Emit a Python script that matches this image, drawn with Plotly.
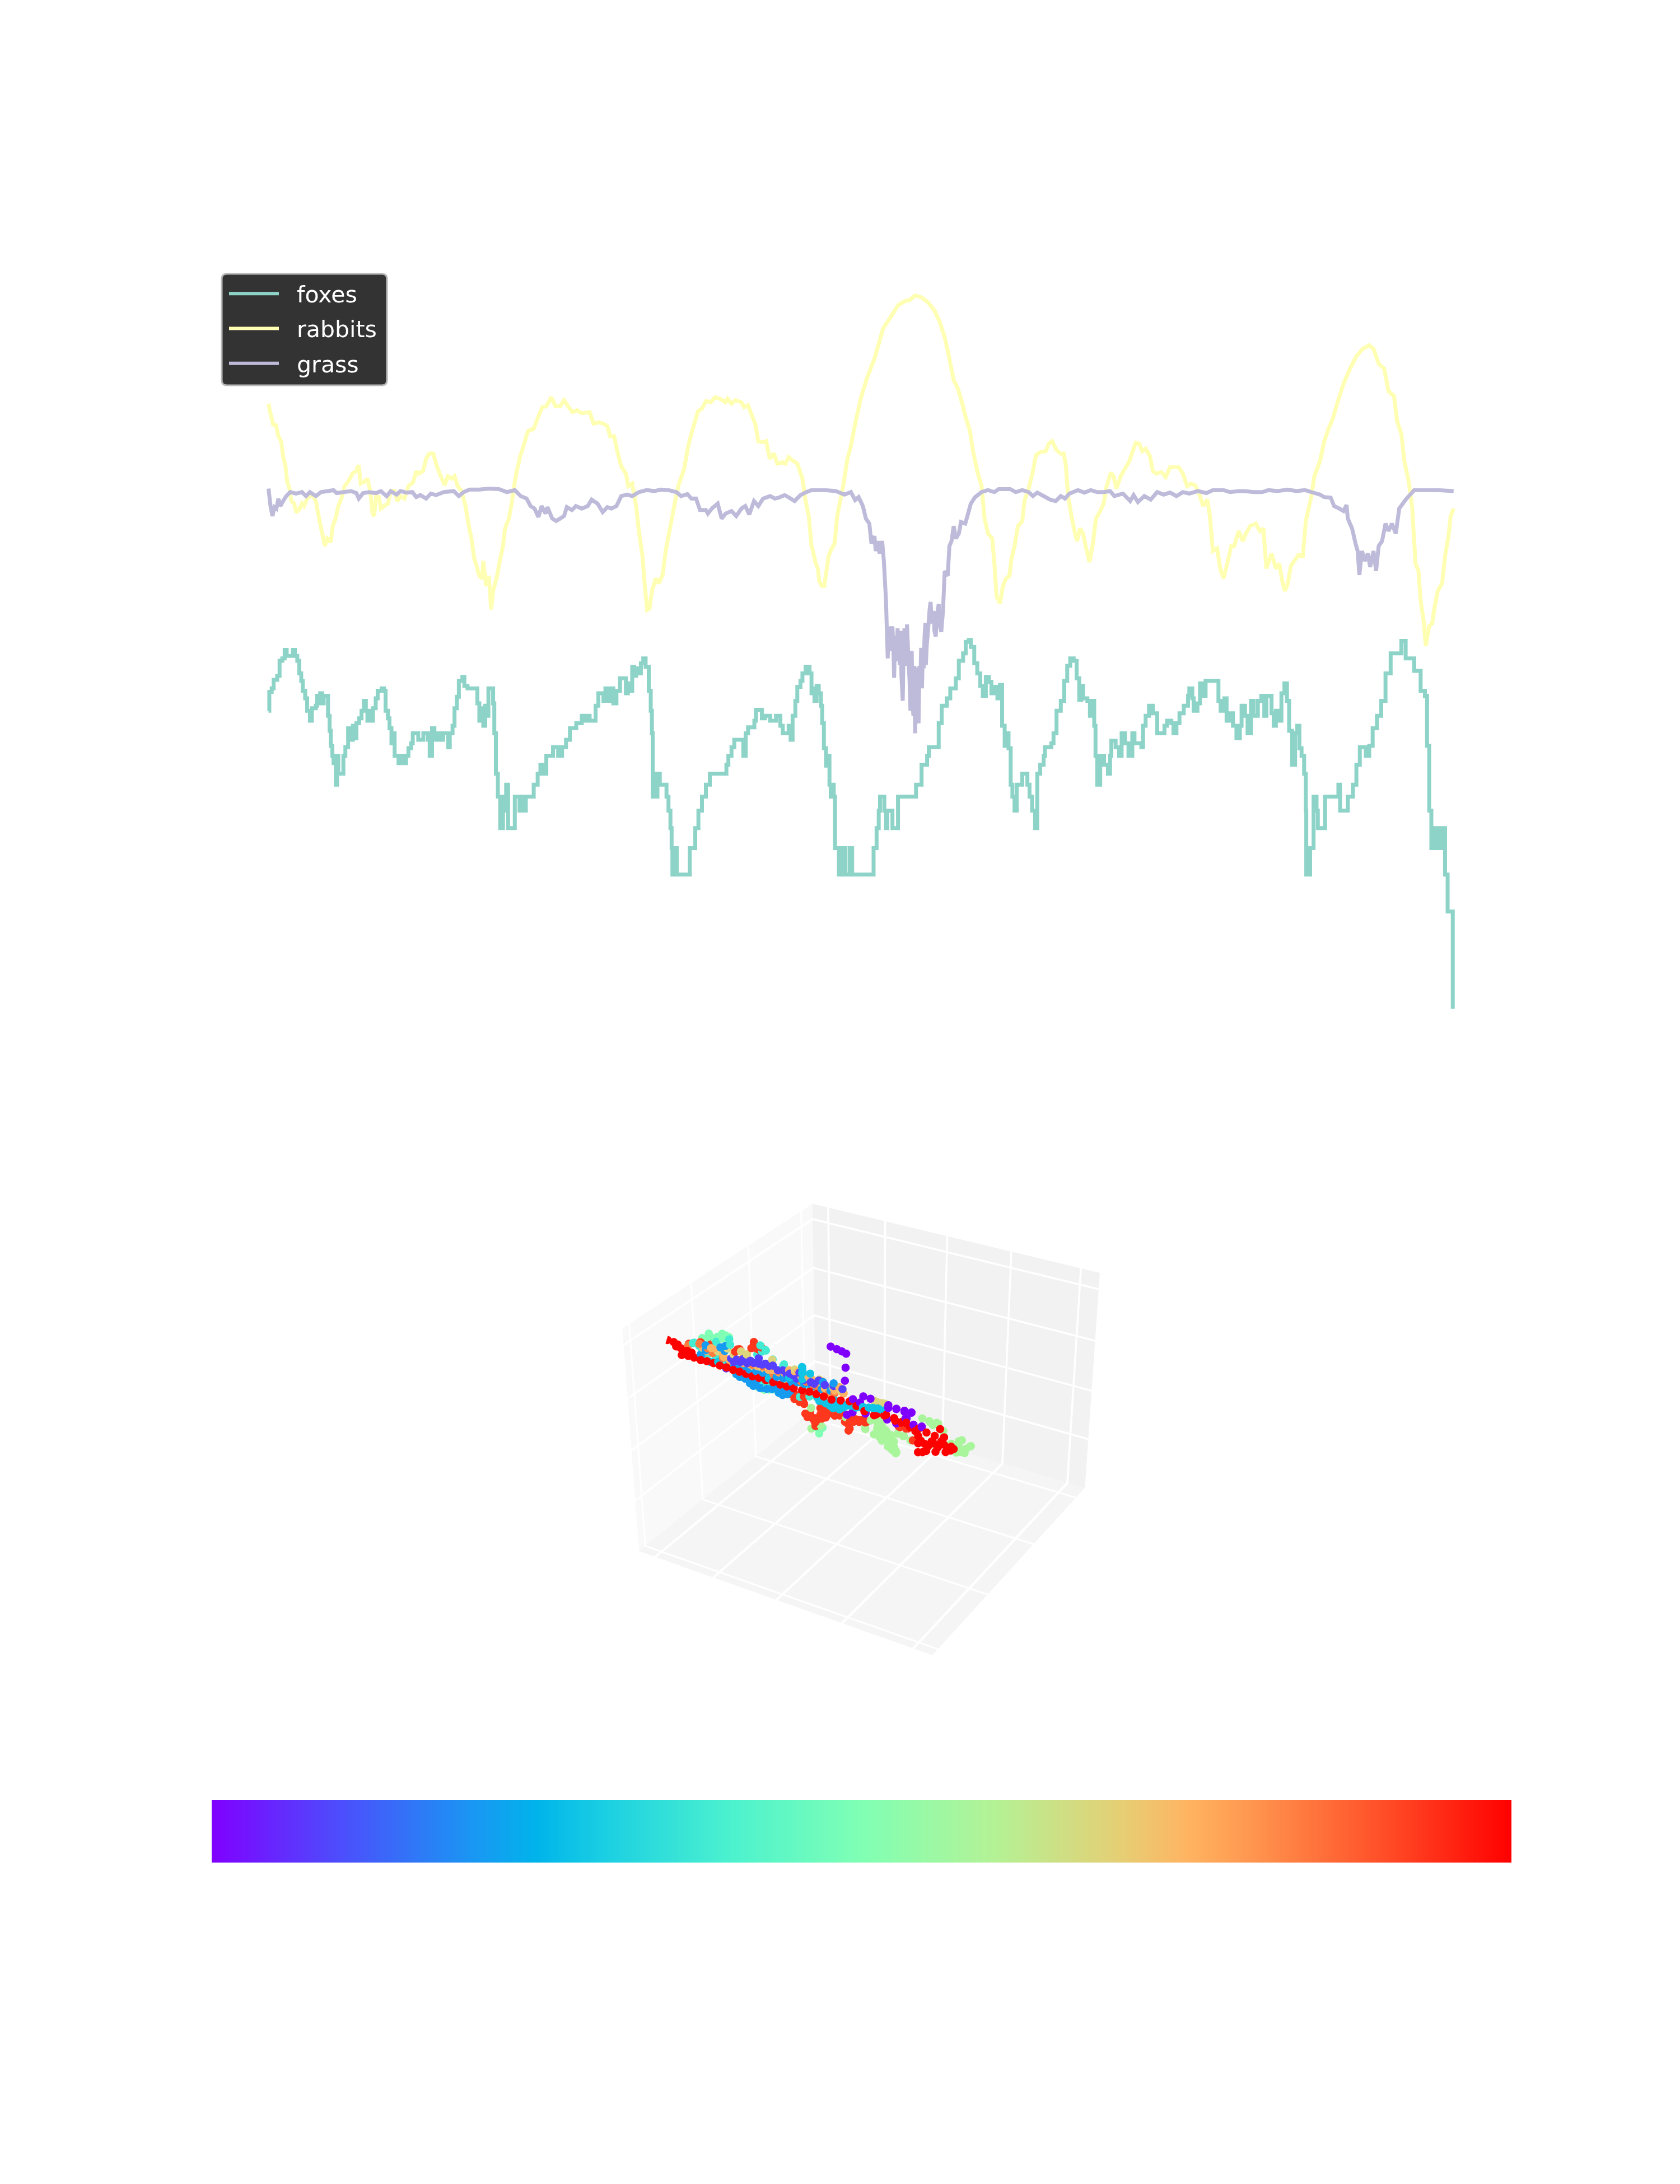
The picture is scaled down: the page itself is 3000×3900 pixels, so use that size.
import plotly.graph_objects as go

series_names = ["foxes", "rabbits", "grass"]
series_colors = ["#8dd3c7", "#ffffb3", "#bebada"]

# (time, level) pairs, first and second half of the run
rabbits_a = [(185,305),(190,325),(197,347),(204,348),(210,370),(217,380),(222,410),(228,430),(232,460),(238,475),(243,500),(250,505),(256,523),(264,515),(270,505),(275,510),(283,495),(290,490),(298,490),(305,500),(312,530),(320,560),(328,590),(334,575),(343,582),(348,550),(355,535),(362,510),(370,495),(378,470),(388,460),(398,445),(407,440),(414,428),(419,465),(427,462),(436,455),(443,480),(449,525),(453,530),(458,490),(465,492),(470,515),(478,510),(488,505),(495,480),(505,480),(512,500),(520,490),(530,495),(540,470),(552,462),(560,440),(566,445),(577,440),(585,415),(593,405),(603,405),(612,430),(622,450),(632,468),(640,450),(650,455),(657,450),(665,470),(675,480),(685,510),(692,545),(700,575),(707,615),(713,630),(720,650),(727,655),(730,620),(737,670),(744,650),(750,717),(755,680),(765,650),(772,620),(780,590),(785,555),(795,535),(803,500),(808,470),(815,440),(824,410),(832,390),(843,360),(858,355),(870,330),(880,312),(890,310),(903,292),(913,310),(925,310),(935,298),(945,310),(957,322),(968,318),(980,324),(1000,322),(1010,345),(1022,342),(1035,345),(1045,350),(1052,370),(1062,370),(1070,400),(1080,430),(1092,445),(1098,470),(1108,465),(1118,510),(1125,560),(1134,610),(1140,670),(1146,718),(1152,715),(1158,680),(1168,655),(1175,665),(1185,648),(1193,600),(1200,570),(1210,530),(1217,500),(1225,470),(1240,435),(1250,390),(1260,360),(1275,320),(1285,315),(1295,300),(1308,302),(1318,292),(1330,295),(1345,302),(1350,295),(1360,305),(1370,298),(1385,302),(1392,312),(1402,308),(1410,325),(1420,345),(1428,380),(1440,382),(1448,380),(1457,415),(1468,405),(1476,425),(1490,422),(1497,425),(1505,412),(1517,420),(1527,425),(1540,455),(1548,500),(1556,530),(1563,590)]
rabbits_b = [(0,595),(8,625),(13,635),(16,660),(22,670),(28,670),(33,640),(38,610),(45,595),(52,585),(58,530),(65,500),(73,465),(82,415),(90,390),(100,345),(113,295),(127,255),(145,215),(165,155),(180,135),(200,108),(215,100),(228,97),(240,88),(255,92),(270,102),(285,118),(297,140),(310,175),(320,215),(330,258),(340,275),(350,305),(358,332),(368,360),(375,400),(385,440),(395,470),(402,535),(410,565),(420,575),(425,625),(430,690),(438,705),(445,670),(452,655),(460,650),(465,615),(472,590),(480,550),(490,540),(495,500),(505,475),(515,440),(522,408),(532,402),(545,400),(552,385),(560,380),(570,398),(580,405),(587,405),(592,430),(597,490),(605,530),(612,560),(618,580),(625,555),(632,565),(638,590),(647,622),(655,585),(662,535),(672,520),(680,505),(687,470),(697,443),(703,450),(710,475),(720,450),(730,435),(740,420),(748,400),(755,383),(763,385),(770,400),(778,395),(788,410),(795,440),(803,445),(815,442),(825,452),(835,432),(855,432),(865,445),(875,470),(885,465),(895,470),(905,490),(912,510),(922,497),(928,530),(935,600),(945,595),(952,635),(960,655),(970,620),(978,590),(985,590),(995,560),(1005,580),(1012,565),(1022,550),(1035,545),(1045,560),(1053,555),(1060,635),(1072,605),(1082,635),(1090,625),(1097,660),(1103,680),(1110,665),(1117,630),(1125,620),(1135,608),(1145,610),(1152,540),(1165,490),(1172,450),(1185,420),(1195,380),(1205,355),(1215,335),(1225,305),(1240,265),(1255,235),(1270,210),(1285,195),(1300,188),(1310,195),(1322,225),(1335,235),(1345,280),(1358,290),(1365,340),(1375,365),(1382,420),(1392,460),(1400,510),(1408,625),(1415,640),(1420,700),(1427,740),(1432,790),(1440,750),(1447,745),(1452,715),(1460,680),(1470,665),(1477,610),(1485,570),(1490,530),(1497,515)]
foxes_a = [(185,920),(187,882),(193,875),(198,858),(207,850),(213,820),(220,815),(226,798),(231,810),(240,810),(247,798),(252,810),(258,820),(263,845),(268,860),(272,880),(278,895),(283,920),(290,940),(295,915),(305,910),(308,890),(313,905),(316,885),(321,905),(325,890),(332,890),(336,930),(340,960),(343,990),(347,1010),(350,1025),(353,1010),(356,1068),(359,1010),(362,1046),(375,1010),(380,993),(387,955),(390,978),(399,950),(404,975),(408,945),(415,935),(421,920),(427,900),(432,920),(436,940),(440,920),(445,940),(450,915),(457,895),(462,880),(472,875),(478,880),(482,920),(488,935),(492,955),(497,985),(500,965),(505,1010),(515,1025),(520,1010),(530,1025),(534,1010),(540,995),(547,985),(551,965),(565,978),(578,965),(590,978),(594,1010),(600,955),(606,965),(610,978),(615,965),(622,978),(628,965),(636,965),(641,993),(645,965),(652,950),(657,915),(663,892),(668,860),(677,852),(682,870),(690,875),(712,875),(715,905),(720,940),(726,915),(730,950),(735,910),(739,930),(743,875),(750,875),(755,905),(758,965),(762,1046),(767,1092),(773,1155),(780,1092),(785,1120),(788,1068),(793,1155),(810,1092),(822,1120),(826,1092),(836,1120),(838,1092),(858,1068),(868,1046),(875,1028),(880,1046),(890,1010),(907,993),(920,1010),(930,993),(940,978),(950,955),(966,945),(980,930),(990,940),(995,930),(1000,940),(1015,910),(1022,885),(1035,900),(1040,875),(1045,900),(1052,875),(1060,905),(1068,880),(1077,855),(1087,855),(1092,885),(1097,865),(1103,880),(1108,832),(1113,850),(1118,835),(1125,845),(1130,825),(1136,815),(1142,832),(1148,832),(1150,880),(1155,920),(1158,965),(1160,1092),(1163,1046),(1168,1092),(1172,1046),(1178,1068),(1195,1092),(1200,1120),(1205,1155),(1208,1195),(1210,1248),(1217,1195),(1221,1248),(1254,1195),(1268,1155),(1276,1120),(1285,1092),(1295,1068),(1305,1046),(1347,1028),(1352,1010),(1360,993),(1367,978),(1390,1010),(1396,965),(1402,953),(1418,940),(1422,918),(1437,935),(1445,930),(1458,940),(1473,930),(1484,950),(1490,965),(1505,950),(1510,978),(1515,930),(1522,900),(1527,872),(1535,860),(1540,845),(1548,832),(1558,845),(1563,885)]
foxes_b = [(0,875),(5,900),(10,870),(15,885),(20,910),(23,945),(27,995),(32,1030),(36,1010),(40,1068),(43,1092),(46,1068),(50,1092),(53,1195),(62,1248),(70,1195),(77,1248),(87,1195),(93,1248),(143,1195),(150,1155),(155,1120),(158,1092),(168,1120),(172,1155),(175,1120),(187,1155),(200,1092),(242,1068),(255,1028),(268,1010),(272,993),(295,945),(302,910),(314,895),(322,875),(335,855),(342,820),(352,805),(358,782),(365,778),(370,792),(378,825),(385,845),(392,870),(398,890),(405,852),(412,862),(418,885),(425,872),(432,895),(438,868),(443,950),(449,990),(453,965),(458,995),(463,1068),(467,1092),(472,1120),(477,1068),(490,1046),(502,1068),(507,1092),(513,1120),(520,1155),(525,1046),(532,1028),(540,1010),(543,993),(558,985),(563,965),(570,920),(580,900),(588,860),(595,830),(602,815),(610,820),(617,855),(623,898),(628,870),(632,895),(642,900),(648,930),(653,900),(658,950),(661,1010),(665,1068),(672,1010),(681,1028),(690,1046),(695,1010),(698,980),(708,993),(716,1010),(722,965),(730,985),(738,1010),(747,965),(752,985),(768,993),(772,950),(778,930),(786,910),(795,925),(805,965),(822,950),(828,940),(838,945),(843,965),(850,945),(857,925),(867,910),(877,890),(880,875),(887,895),(890,920),(899,905),(905,865),(912,890),(918,860),(948,900),(953,920),(962,895),(967,940),(975,925),(982,950),(990,975),(998,950),(1002,910),(1010,930),(1016,965),(1024,900),(1030,930),(1040,900),(1048,890),(1055,930),(1060,890),(1072,925),(1077,950),(1082,920),(1090,940),(1095,885),(1102,865),(1108,900),(1113,960),(1120,1028),(1127,965),(1132,950),(1137,995),(1142,1010),(1148,1046),(1152,1120),(1153,1248),(1162,1195),(1170,1092),(1177,1120),(1180,1155),(1197,1092),(1228,1068),(1232,1120),(1250,1092),(1262,1068),(1270,1028),(1278,993),(1292,1010),(1300,990),(1308,955),(1318,930),(1328,900),(1338,845),(1350,805),(1365,805),(1375,780),(1385,815),(1405,840),(1420,880),(1430,890),(1435,990),(1440,1120),(1445,1195),(1450,1155),(1458,1195),(1462,1155),(1470,1195),(1475,1155),(1477,1248),(1483,1322),(1495,1517)]
grass_a = [(185,475),(190,510),(195,530),(200,512),(205,515),(210,495),(215,510),(222,500),(230,490),(240,482),(255,485),(270,482),(280,490),(290,482),(305,490),(318,482),(335,480),(350,478),(358,484),(375,482),(395,480),(408,484),(414,495),(425,484),(440,482),(458,484),(470,480),(485,490),(495,480),(510,487),(520,480),(535,483),(550,482),(560,492),(570,488),(585,495),(597,485),(610,488),(630,482),(655,480),(668,490),(680,482),(695,477),(720,477),(745,475),(770,476),(790,482),(810,478),(825,490),(840,495),(850,510),(860,515),(870,532),(878,510),(888,525),(893,512),(905,535),(915,540),(925,535),(935,530),(942,512),(955,518),(965,510),(980,515),(995,510),(1005,497),(1020,505),(1033,522),(1045,512),(1055,515),(1068,510),(1080,490),(1095,487),(1108,490),(1125,482),(1145,478),(1165,480),(1180,477),(1200,478),(1220,482),(1232,490),(1248,486),(1258,495),(1270,495),(1280,518),(1295,518),(1300,525),(1310,515),(1325,505),(1335,535),(1345,525),(1360,520),(1372,530),(1385,515),(1395,510),(1405,527),(1417,500),(1428,510),(1440,495),(1458,490),(1470,495),(1480,493),(1495,488),(1510,495),(1520,500),(1535,488),(1550,482),(1563,478)]
grass_b = [(0,478),(30,478),(55,480),(75,487),(90,482),(100,498),(108,492),(118,510),(125,535),(133,545),(138,585),(145,570),(148,600),(153,580),(157,605),(163,580),(167,620),(172,700),(174,760),(176,815),(178,751),(181,800),(184,770),(187,751),(189,790),(191,854),(193,770),(196,820),(199,755),(202,800),(204,828),(206,760),(208,850),(211,900),(213,800),(215,755),(218,830),(221,747),(224,810),(227,860),(229,920),(232,800),(234,910),(236,930),(238,830),(240,965),(242,870),(244,833),(246,930),(248,945),(250,830),(252,870),(254,794),(256,875),(258,800),(260,835),(262,770),(264,744),(265,828),(267,790),(270,760),(274,715),(276,702),(279,745),(283,720),(285,760),(288,771),(291,730),(295,706),(298,750),(301,762),(305,720),(309,640),(316,650),(320,590),(325,580),(330,550),(335,575),(342,565),(347,542),(357,545),(362,530),(370,505),(380,492),(395,482),(410,478),(425,482),(435,476),(462,476),(475,482),(490,478),(505,482),(515,490),(525,483),(540,490),(555,497),(568,500),(580,490),(590,495),(600,485),(620,478),(635,483),(650,478),(665,482),(680,482),(695,480),(705,490),(725,485),(742,500),(750,488),(760,502),(775,490),(790,497),(805,482),(820,487),(835,483),(850,490),(865,482),(880,485),(900,480),(920,484),(935,478),(960,478),(975,482),(995,480),(1010,480),(1030,482),(1050,482),(1065,478),(1085,480),(1110,477),(1130,480),(1150,478),(1165,482),(1185,487),(1195,492),(1210,493),(1218,510),(1230,515),(1240,520),(1247,508),(1250,535),(1260,555),(1268,585),(1273,600),(1277,648),(1283,600),(1290,620),(1297,605),(1302,632),(1310,600),(1316,640),(1322,590),(1330,580),(1338,545),(1345,560),(1353,545),(1362,565),(1370,515),(1385,497),(1405,478),(1430,478),(1460,478),(1497,480)]

# 3D scatter: (foxes axis, grass axis) pairs by colour group; rabbits axis per group
pts_mint = [(490,526),(510,523),(535,521),(555,528),(360,637),(375,632),(400,656),(410,654),(420,652),(385,630),(660,473),(670,447),(680,430),(690,453),(680,470),
            (359,642),(415,646),(338,620),(359,628),(401,641),(385,641),(492,525),(484,540),(533,525),(558,529),(489,549),(539,540),
            (470,535),(500,518),(520,515),(545,525),(570,530),(595,535)]
pts_lightgreen = [(840,554),(850,527),(860,511),(870,494),(880,477),(890,461),(900,454),(885,509),(860,534),(860,561),(855,489),(905,521),(920,518),(945,514),(990,594),(1010,596),(1050,530),(1070,561),(1085,536),(1100,556),(1075,528),(1060,528),(960,554),(1010,521),(815,500),(760,517),(875,486),(895,473),(865,522),(845,540),
                  (660,510),(660,441),(688,462),(814,504),(830,534),(852,552),(852,523),(874,513),(841,548),(852,528),(863,507),(872,518),(880,480),(891,472),(899,463),(888,506),(902,458),(839,492),(861,480),(905,520),(922,519),(940,512),(954,545),(971,595),(991,592),(1015,594),(1028,577),(1012,513),(1048,524),(1064,522),(1086,529),(1078,567),(1102,558),(1070,544),
                  (848,515),(856,500),(866,490),(878,468),(885,465),(895,460),(868,505),(878,498),(895,490),(1000,585),(1030,560),(1040,535),(1050,545),(1090,545)]
pts_orangered = [(600,538),(620,540),(640,526),(650,485),(670,477),(675,458),(690,543),(690,523),(690,503),(690,493),(705,528),(705,498),(730,527),(730,517),(770,530),(770,500),(770,480),(800,520),(820,527),(505,661),(515,649),(500,669),(460,626),(370,615),(340,610),(450,627),(915,549),(930,549),
                 (500,661),(492,646),(522,659),(509,650),(456,630),(443,617),(338,611),(302,593),(379,611),(357,597),(602,537),(627,541),(643,543),(643,519),(646,488),(652,479),(674,484),(674,469),(694,490),(693,528),(707,531),(709,508),(731,528),(731,514),(751,532),(770,531),(773,509),(773,488),(778,516),(800,526),(817,525),(910,548),(935,551),(822,530),(819,558),(913,547),(929,551),(949,518),
                 (615,525),(630,520),(660,495),(680,480),(700,510),(715,520),(745,520),(760,505),(785,515),(790,525),(810,530)]
pts_turquoise = [(320,604),(340,595),(430,636),(510,633),(520,666),(535,656),(525,648),(428,653),(388,631),(316,601),(536,655),(555,633),(588,629),(536,541),(522,553),(550,566),(335,598),(363,584),(377,561),(396,561),(418,580),(586,625),(632,539),(660,551),
                 (350,578),(385,578),(405,580),(440,572),(460,575),(480,578),(500,575),(520,578),(540,578),(560,580),(610,582),(640,585),(660,585),(680,588)]
pts_yellow = [(480,623),(440,609),(392,603),(620,625),(850,607),(870,609),(750,608),(690,618),(640,626),(590,580),(463,627),(481,624),(393,602),(555,633),(423,622),(753,603),(858,606),(844,607),(863,607),(874,609),
              (435,575),(500,590),(525,592),(570,592),(600,595),(645,600),(700,600),(730,605)]
pts_orange = [(350,599),(385,610),(360,592),(575,600),(600,608),(630,623),(650,610),(720,603),(700,617),(660,618),(430,586),(410,599),(511,597),(531,597),(555,600),(412,592),(374,607),(577,602),(605,618),(621,620),(657,614),(707,596),(726,591),(748,616),
              (440,590),(470,592),(490,595),(545,597),(565,603),(590,605),(615,607),(640,610),(670,612),(685,608),(735,600),(760,600)]
pts_coral = [(305,593),(340,610),(365,604),(380,594),(410,589),(560,589),(590,595),(610,596),(640,596),(690,588),(720,588),
             (440,600),(470,608),(500,598),(530,604),(575,604),(655,600),(675,598),(735,592)]
pts_blue = [(345,577),(360,597),(405,622),(420,632),(445,561),(470,559),(480,547),(510,538),(530,534),(565,546),(585,538),(540,583),(520,581),(580,561),(615,583),
            (360,613),(344,578),(407,623),(418,615),(476,545),(487,551),(511,537),(522,580),(564,548),(591,543),(511,554),(564,565),(591,564),(616,591),(586,532),(602,543),(591,595),(734,625),(704,618),
            (430,578),(450,578),(470,580),(490,580),(510,582),(530,584),(550,585),(570,586),(590,588),(610,590),(630,590),(650,592),(672,592),(700,594),(725,598),
            (450,550),(460,545),(490,535),(500,530),(520,530),(540,535),(555,540),(575,535),(600,540),(610,555)]
pts_cyan = [(375,567),(400,576),(648,649),(648,629),(648,609),(740,575),(760,567),(775,572),(800,575),(820,582),(850,592),(880,597),(700,567),(720,558),(735,548),(750,563),(610,601),(550,576),
            (649,645),(649,634),(696,557),(709,559),(726,553),(753,551),(775,575),(797,578),(819,582),(847,591),(869,595),(742,561),(671,636),(819,584),(847,592),(868,595),
            (690,566),(715,556),(730,558),(765,562),(785,575),(810,580),(835,588),(860,595)]
pts_violet = [(455,599),(490,606),(520,611),(540,618),(600,608),(630,603),(680,605),(735,618),(760,617),(420,562),(437,598),(454,601),(495,612),(520,629),(539,618),(561,620),(421,560),(473,609),(610,612),(638,625),(693,620),
              (445,590),(465,597),(485,600),(505,608),(530,612),(550,615),(575,610),(590,615),(620,610),(650,606),(670,606),(710,612)]
pts_purple = [(729,742),(746,740),(760,738),(772,735),(770,690),(768,648),(773,540),(789,554),(819,617),(839,617),(888,615),(910,612),(932,614),(951,616),(957,579),(979,580),(935,591),(888,606),(910,611),(932,611),(951,615),(938,592),(957,578),(979,582),(885,568),(910,565),(825,564),(790,597),(810,594)]
pts_red = [(249,596),(268,596),(280,592),(275,584),(289,583),(308,581),(300,569),(291,561),(311,565),(322,580),(329,566),(349,565),(368,568),(388,569),(407,568),(427,569),(447,568),(466,569),(485,569),(504,568),(524,570),(544,570),(565,571),(586,571),(605,572),(625,573),(649,576),(670,579),(690,579),(711,579),(733,577),(759,584),(784,591),(803,583),(825,575),(858,577),(885,586),(907,584),(929,581),(940,582),(852,572),(880,582),(910,577),(940,581),(927,577),(973,575),(973,552),(973,529),(973,500),(995,572),(990,534),(1017,570),(1031,597),(1042,575),(1042,552),(1026,537),(1061,553),(1053,539),(995,513),(1009,549),
           (950,572),(965,565),(980,540),(985,505),(1000,530),(1015,545),(1020,520),(1035,560),(1047,530),(1060,540),(1068,548)]

scatter_groups = [
    (pts_mint, 0.50, 0.230), (pts_lightgreen, 0.58, 0.225), (pts_orangered, 0.93, 0.220),
    (pts_turquoise, 0.38, 0.218), (pts_yellow, 0.68, 0.216), (pts_orange, 0.75, 0.214),
    (pts_coral, 0.84, 0.212), (pts_blue, 0.21, 0.210), (pts_violet, 0.08, 0.208),
    (pts_purple, 0.0, 0.206), (pts_cyan, 0.28, 0.204), (pts_red, 1.0, 0.200),
]

x_grid = [300, 482, 673, 864, 1064]
y_grid = [0.03, 0.33, 0.63, 0.93]
z_grid = [182, 357, 532, 707]

rainbow = [[0,"#8000ff"],[0.1,"#4c4ffc"],[0.2,"#1a96f3"],[0.25,"#00b4eb"],[0.3,"#1acee3"],[0.4,"#4cf2ce"],
           [0.5,"#80ffb4"],[0.6,"#b3f296"],[0.7,"#e6ce74"],[0.75,"#ffb462"],[0.8,"#ff964f"],[0.9,"#ff4f28"],[1,"#ff0000"]]
strip_levels = list(range(256))

W, H = 2984, 3884
px = lambda v: (v - 8) / W
py = lambda v: 1 - (v - 8) / H
fig = go.Figure()

B_ORIGIN, B_RATE = 1565.1, 1.0872
def unzip(a, b):
    xs = [p[0] for p in a] + [B_ORIGIN + B_RATE * p[0] for p in b]
    ys = [p[1] for p in a] + [p[1] for p in b]
    return xs, ys

for name, color, (a, b), shape in zip(series_names, series_colors,
        [(foxes_a, foxes_b), (rabbits_a, rabbits_b), (grass_a, grass_b)], ["hv", "linear", "linear"]):
    xs, ys = unzip(a, b)
    fig.add_trace(go.Scatter(x=xs, y=ys, mode="lines", name=name, legendgroup=name, showlegend=False,
                             line=dict(color=color, width=7, shape=shape, simplify=False)))
    fig.add_trace(go.Scatter(x=[None], y=[None], mode="lines", name=name, legendgroup=name,
                             line=dict(color=color, width=6, dash="89px,200px")))

# the levels were read against a sloped baseline; this slope puts them back on the grass axis
BASELINE_SLOPE = 35 / 850
for pts, level, depth in scatter_groups:
    fig.add_trace(go.Scatter3d(x=[p[0] for p in pts], y=[depth] * len(pts),
                               z=[p[1] + BASELINE_SLOPE * (1100 - p[0]) for p in pts],
                               mode="markers", showlegend=False,
                               marker=dict(size=8.5, color=[level] * len(pts), colorscale=rainbow, cmin=0, cmax=1,
                                           line=dict(width=0))))

fig.add_trace(go.Heatmap(z=[strip_levels], x=strip_levels, y=[0], colorscale=rainbow, showscale=False,
                         xaxis="x2", yaxis="y2", zsmooth="best"))

def box(x0, y0, x1, y1, r=9):
    return (f"M {px(x0+r)} {py(y0)} L {px(x1-r)} {py(y0)} Q {px(x1)} {py(y0)} {px(x1)} {py(y0+r)} "
            f"L {px(x1)} {py(y1-r)} Q {px(x1)} {py(y1)} {px(x1-r)} {py(y1)} L {px(x0+r)} {py(y1)} "
            f"Q {px(x0)} {py(y1)} {px(x0)} {py(y1-r)} L {px(x0)} {py(y0+r)} Q {px(x0)} {py(y0)} {px(x0+r)} {py(y0)} Z")

axis3d = dict(showticklabels=False, ticks="", title="", showline=False, zeroline=False, showspikes=False,
              gridcolor="#ffffff", gridwidth=10, showbackground=True)

fig.update_layout(
    width=W, height=H, margin=dict(l=0, r=0, t=0, b=0), paper_bgcolor="white", plot_bgcolor="white",
    xaxis=dict(domain=[px(457), px(2621)], range=[153, 3228.5], visible=False),
    yaxis=dict(domain=[py(1847), py(449)], range=[1568, 0], visible=False),
    xaxis2=dict(domain=[px(378), px(2699)], visible=False, range=[0, 255], anchor="y2"),
    yaxis2=dict(domain=[py(3326), py(3214)], visible=False, anchor="x2"),
    scene=dict(
        domain=dict(x=[px(650), px(2450)], y=[py(3892), py(1154)]),
        aspectmode="manual", aspectratio=dict(x=1, y=1, z=0.75),
        camera=dict(eye=dict(x=2.417, y=-4.104, z=2.75), center=dict(x=0, y=0, z=0), up=dict(x=0, y=0, z=1)),
        xaxis=dict(axis3d, range=[248, 1116], tickvals=x_grid, backgroundcolor="#f9f9f9"),
        yaxis=dict(axis3d, range=[0, 1], tickvals=y_grid, backgroundcolor="#f2f2f2"),
        zaxis=dict(axis3d, range=[0, 760], tickvals=z_grid, backgroundcolor="#f5f5f5"),
    ),
    showlegend=True,
    legend=dict(x=px(404), y=py(491), xanchor="left", yanchor="top", bgcolor="rgba(0,0,0,0)", borderwidth=0,
                font=dict(family="DejaVu Sans", size=41, color="white"), itemwidth=116, tracegroupgap=6,
                traceorder="grouped", itemclick=False, itemdoubleclick=False),
    shapes=[dict(type="path", xref="paper", yref="paper", path=box(396, 489, 691, 688),
                 fillcolor="#333333", line=dict(color="#b8b8b8", width=3), layer="below")],
)

fig.write_html("out.html")
